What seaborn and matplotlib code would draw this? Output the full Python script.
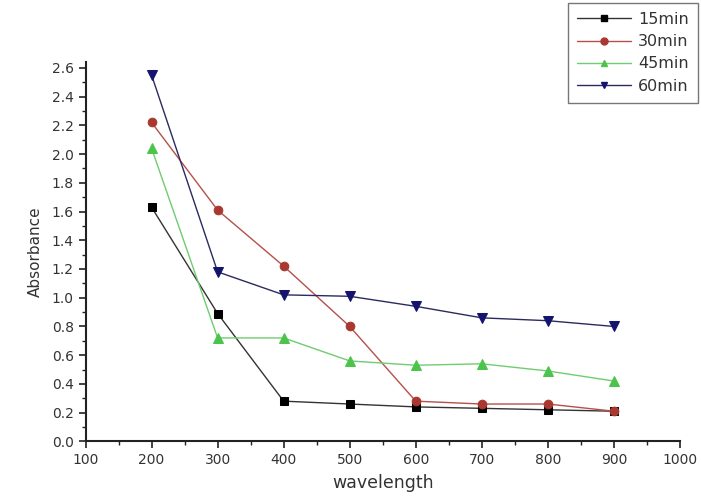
import numpy as np
import pandas as pd
import matplotlib
matplotlib.use("Agg")
import matplotlib.pyplot as plt
import seaborn as sns
from matplotlib.ticker import MultipleLocator, FormatStrFormatter

# data
wavelength = [200, 300, 400, 500, 600, 700, 800, 900]
abs_15 = [1.63, 0.89, 0.28, 0.26, 0.24, 0.23, 0.22, 0.21]
abs_30 = [2.22, 1.61, 1.22, 0.80, 0.28, 0.26, 0.26, 0.21]
abs_45 = [2.04, 0.72, 0.72, 0.56, 0.53, 0.54, 0.49, 0.42]
abs_60 = [2.55, 1.18, 1.02, 1.01, 0.94, 0.86, 0.84, 0.80]
labels = ["15min", "30min", "45min", "60min"]

rows = []
for lab, vals in zip(labels, [abs_15, abs_30, abs_45, abs_60]):
    for w, v in zip(wavelength, vals):
        rows.append({"wavelength": w, "Absorbance": v, "time": lab})
df = pd.DataFrame(rows)

sns.set_style("ticks")
plt.rcParams["font.family"] = ["DejaVu Sans"]

line_colors = {"15min": "#333333", "30min": "#b5504a", "45min": "#70cc70", "60min": "#2a2a60"}
marker_colors = {"15min": "#000000", "30min": "#a83830", "45min": "#4cc44c", "60min": "#14146e"}
markers = {"15min": "s", "30min": "o", "45min": "^", "60min": "v"}
msizes = {"15min": 5.5, "30min": 6.2, "45min": 6.5, "60min": 6.5}

fig = plt.figure(figsize=(7.01, 5.01), dpi=100)
ax = fig.add_axes([0.122, 0.119, 0.848, 0.757])

handles = []
for lab in labels:
    sub = df[df["time"] == lab]
    sns.lineplot(data=sub, x="wavelength", y="Absorbance", ax=ax,
                 color=line_colors[lab], linewidth=1.0, marker=markers[lab],
                 markersize=msizes[lab], markerfacecolor=marker_colors[lab],
                 markeredgecolor=marker_colors[lab], legend=False)
    handles.append(plt.Line2D([], [], color=line_colors[lab], linewidth=1.0,
                              marker=markers[lab], markersize=5,
                              markerfacecolor=marker_colors[lab],
                              markeredgecolor=marker_colors[lab]))

ax.set_xlim(100, 1000)
ax.set_ylim(0, 2.64)
ax.xaxis.set_major_locator(MultipleLocator(100))
ax.xaxis.set_minor_locator(MultipleLocator(50))
ax.yaxis.set_major_locator(MultipleLocator(0.2))
ax.yaxis.set_minor_locator(MultipleLocator(0.1))
ax.yaxis.set_major_formatter(FormatStrFormatter("%.1f"))
ax.tick_params(axis="both", which="major", direction="out", length=5, width=1.2,
               labelsize=10, colors="#222222", labelcolor="#333333")
ax.tick_params(axis="both", which="minor", direction="out", length=3, width=1.0,
               colors="#222222")
for s in ["top", "right"]:
    ax.spines[s].set_visible(False)
for s in ["left", "bottom"]:
    ax.spines[s].set_linewidth(1.5)
    ax.spines[s].set_color("#222222")

ax.set_xlabel("wavelength", fontsize=12.5, labelpad=5, color="#333333")
ax.set_ylabel("Absorbance", fontsize=11, labelpad=6, color="#333333")

leg = fig.legend(handles, labels, loc="upper right", bbox_to_anchor=(0.996, 0.995),
                 fontsize=11.5, frameon=True, fancybox=False, edgecolor="#555555",
                 handlelength=3.4, handletextpad=0.4, labelspacing=0.45,
                 borderpad=0.6, borderaxespad=0.0)
leg.get_frame().set_linewidth(1.0)
for t in leg.get_texts():
    t.set_color("#333333")

fig.savefig("out.png", dpi=100)
